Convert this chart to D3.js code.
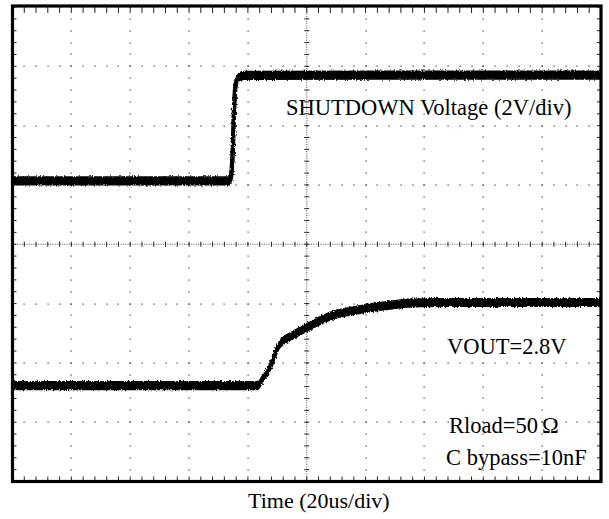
<!DOCTYPE html>
<html>
<head>
<meta charset="utf-8">
<script src="https://cdn.jsdelivr.net/npm/d3@7"></script>
<style>
  html, body { margin: 0; padding: 0; background: #fff; }
  svg { display: block; }
  text { font-family: "Liberation Serif", "Times New Roman", serif; fill: #000; }
</style>
</head>
<body>
<svg id="chart" width="609" height="519"></svg>
<script>
// ---- data (time in microseconds, 20us/div; voltages in volts, 2V/div) ----
const shutdownTime = [0, 73.9, 74.36, 74.87, 75.17, 75.6, 76.1, 77.0, 79.0, 200];
const shutdownVolt = [0, 0, 0.22, 1.06, 2.07, 3.02, 3.36, 3.51, 3.56, 3.57];

const voutTime = [0, 82.75, 83.8, 84.8, 87.5, 90.4, 91.6, 94.3, 100.1, 107.9, 119.1, 128.3, 135.1, 145.3, 200];
const voutVolt = [0, 0, 0.03, 0.2, 0.61, 1.33, 1.47, 1.64, 1.96, 2.33, 2.58, 2.71, 2.78, 2.8, 2.8];

// channel ground offsets (divisions from screen centre) and scale
const ch1Offset = 1.067;   // SHUTDOWN ground reference
const ch2Offset = -2.382;  // VOUT ground reference
const voltsPerDiv = 2;

const labels = {
  ch1: "SHUTDOWN Voltage (2V/div)",
  ch2: "VOUT=2.8V",
  rloadA: "Rload=50",
  rloadB: "\u03A9",
  cbyp: "C bypass=10nF",
  xTitle: "Time (20us/div)"
};

// ---- scales ----
const svg = d3.select("#chart");
const x = d3.scaleLinear().domain([0, 200]).range([12.5, 601]);
const y = d3.scaleLinear().domain([-4, 4]).range([481.5, 7]);
const xDivs = d3.range(0, 201, 20);
const yDivs = d3.range(-4, 4.01, 1);
const xMinor = d3.range(0, 200.01, 4);
const yMinor = d3.range(-4, 4.001, 0.2);

const g = svg.append("g");

// ---- grid dots ----
const dotColor = "#3a3a3a";
const grid = g.append("g");
xDivs.slice(1, -1).forEach(t => {
  if (t === 100) return;
  yMinor.forEach(v => {
    grid.append("rect").attr("x", Math.round(x(t)) - 0.5).attr("y", Math.round(y(v)) - 0.5)
      .attr("width", 1.2).attr("height", 1.2).attr("fill", dotColor);
  });
});
yDivs.slice(1, -1).forEach(v => {
  if (v === 0) return;
  xMinor.forEach(t => {
    grid.append("rect").attr("x", Math.round(x(t)) - 0.5).attr("y", Math.round(y(v)) - 0.5)
      .attr("width", 1.2).attr("height", 1.2).attr("fill", dotColor);
  });
});

// ---- centre cross with fine dots & ticks ----
const cross = g.append("g").attr("stroke", "#222").attr("stroke-width", 1);
cross.append("line").attr("x1", x(0)).attr("x2", x(200)).attr("y1", y(0)).attr("y2", y(0))
  .attr("stroke-dasharray", "1,1.35").attr("stroke", "#555");
cross.append("line").attr("x1", x(100)).attr("x2", x(100)).attr("y1", y(-4)).attr("y2", y(4))
  .attr("stroke-dasharray", "1,1.37").attr("stroke", "#555");
xMinor.forEach(t => {
  cross.append("line").attr("x1", x(t)).attr("x2", x(t)).attr("y1", y(0) - 2.5).attr("y2", y(0) + 2.5);
});
yMinor.forEach(v => {
  cross.append("line").attr("x1", x(100) - 2.5).attr("x2", x(100) + 2.5).attr("y1", y(v)).attr("y2", y(v));
});

// ---- border ticks ----
const edge = g.append("g").attr("stroke", "#222").attr("stroke-width", 1);
xMinor.forEach(t => {
  edge.append("line").attr("x1", x(t)).attr("x2", x(t)).attr("y1", y(4)).attr("y2", y(4) + 6);
  edge.append("line").attr("x1", x(t)).attr("x2", x(t)).attr("y1", y(-4)).attr("y2", y(-4) - 5);
});
yMinor.forEach(v => {
  edge.append("line").attr("x1", x(0)).attr("x2", x(0) + 4).attr("y1", y(v)).attr("y2", y(v));
  edge.append("line").attr("x1", x(200)).attr("x2", x(200) - 4).attr("y1", y(v)).attr("y2", y(v));
});

// ---- noise filter for the traces ----
const defs = svg.append("defs");
const f = defs.append("filter").attr("id", "rough").attr("x", "-5%").attr("y", "-20%").attr("width", "110%").attr("height", "140%");
f.append("feTurbulence").attr("type", "fractalNoise").attr("baseFrequency", "0.9 0.35").attr("numOctaves", 2).attr("seed", 3).attr("result", "n");
f.append("feDisplacementMap").attr("in", "SourceGraphic").attr("in2", "n").attr("scale", 3.5).attr("xChannelSelector", "R").attr("yChannelSelector", "G");

// ---- traces ----
function drawTrace(times, volts, offset) {
  const pts = times.map((t, i) => [t, offset + volts[i] / voltsPerDiv]);
  const halfBand = 4.6 / 59.3; // vertical noise half-width in divisions
  const area = d3.area().x(d => x(d[0])).y0(d => y(d[1] - halfBand)).y1(d => y(d[1] + halfBand)).curve(d3.curveMonotoneX);
  const line = d3.line().x(d => x(d[0])).y(d => y(d[1])).curve(d3.curveMonotoneX);
  const tg = g.append("g").attr("filter", "url(#rough)");
  tg.append("path").attr("d", area(pts)).attr("fill", "#000");
  tg.append("path").attr("d", line(pts)).attr("fill", "none").attr("stroke", "#000").attr("stroke-width", 4.5).attr("stroke-linejoin", "round");
}
drawTrace(shutdownTime, shutdownVolt, ch1Offset);
drawTrace(voutTime, voutVolt, ch2Offset);

// ---- frame ----
g.append("rect").attr("x", x(0)).attr("y", y(4) - 1).attr("width", x(200) - x(0)).attr("height", y(-4) - y(4) + 1)
  .attr("fill", "none").attr("stroke", "#000").attr("stroke-width", 3.2);

// ---- text ----
const fs = 22.5;
svg.append("text").attr("x", 286).attr("y", 115).attr("font-size", fs).text(labels.ch1);
svg.append("text").attr("x", 447).attr("y", 354).attr("font-size", fs).text(labels.ch2);
const rl = svg.append("text").attr("x", 449).attr("y", 433).attr("font-size", fs);
rl.append("tspan").text(labels.rloadA);
rl.append("tspan").attr("dx", 4).text(labels.rloadB);
svg.append("text").attr("x", 446).attr("y", 465).attr("font-size", fs).text(labels.cbyp);
svg.append("text").attr("x", 248).attr("y", 508).attr("font-size", 22).text(labels.xTitle);
</script>
</body>
</html>
